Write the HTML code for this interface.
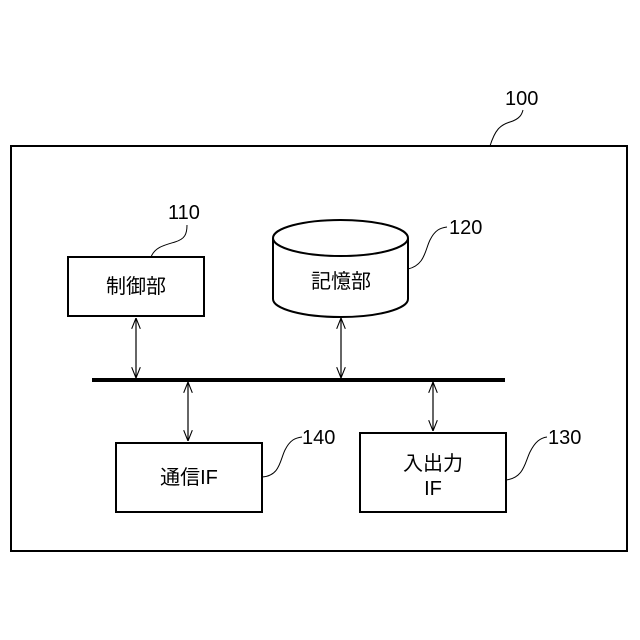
<html><body style="margin:0;background:#fff">
<svg width="640" height="640" xmlns="http://www.w3.org/2000/svg" style="font-family:'Liberation Sans','Noto Sans CJK JP',sans-serif">
<defs><marker id="a" viewBox="0 0 10 10" refX="10" refY="5" markerWidth="9" markerHeight="9" orient="auto-start-reverse"><path d="M0,1 L10,5 L0,9" fill="none" stroke="#000" stroke-width="1"/></marker></defs>
<g fill="none" stroke="#000" stroke-width="2">
<rect x="11" y="146" width="616" height="405"/>
<rect x="68" y="257" width="136" height="59"/>
<path d="M273,238 A67.5,18 0 0 1 408,238 L408,299 A67.5,18 0 0 1 273,299 Z"/>
<path d="M273,238 A67.5,18 0 0 0 408,238"/>
<rect x="116" y="443" width="146" height="69"/>
<rect x="360" y="433" width="146" height="79"/>
</g>
<line x1="92" y1="380" x2="505" y2="380" stroke="#000" stroke-width="4"/>
<g stroke="#000" stroke-width="1.2" marker-start="url(#a)" marker-end="url(#a)">
<line x1="136" y1="318" x2="136" y2="378"/>
<line x1="341" y1="318" x2="341" y2="378"/>
<line x1="188" y1="382" x2="188" y2="441"/>
<line x1="433" y1="382" x2="433" y2="431"/>
</g>
<g fill="none" stroke="#000" stroke-width="1">
<path d="M490,146 C495,130 500,125 510,122 C520,119 522,114 523,110"/>
<path d="M151,257 C155,247 165,245 175,242 C185,239 187,234 187,225"/>
<path d="M408,269 C425,265 425,250 430,240 C435,230 440,228 447,227"/>
<path d="M262,477 C280,476 280,460 285,450 C290,440 295,438 302,437"/>
<path d="M506,480 C524,478 525,462 530,452 C535,442 540,438 547,437"/>
</g>
<g font-size="20" fill="#000">
<text x="505" y="105">100</text>
<text x="168" y="219">110</text>
<text x="449" y="234">120</text>
<text x="302" y="444">140</text>
<text x="548" y="444">130</text>
<text x="136" y="293" text-anchor="middle">制御部</text>
<text x="341" y="288" text-anchor="middle">記憶部</text>
<text x="189" y="484" text-anchor="middle">通信IF</text>
<text x="433" y="470" text-anchor="middle">入出力</text>
<text x="433" y="495" text-anchor="middle">IF</text>
</g>
</svg>
</body></html>
